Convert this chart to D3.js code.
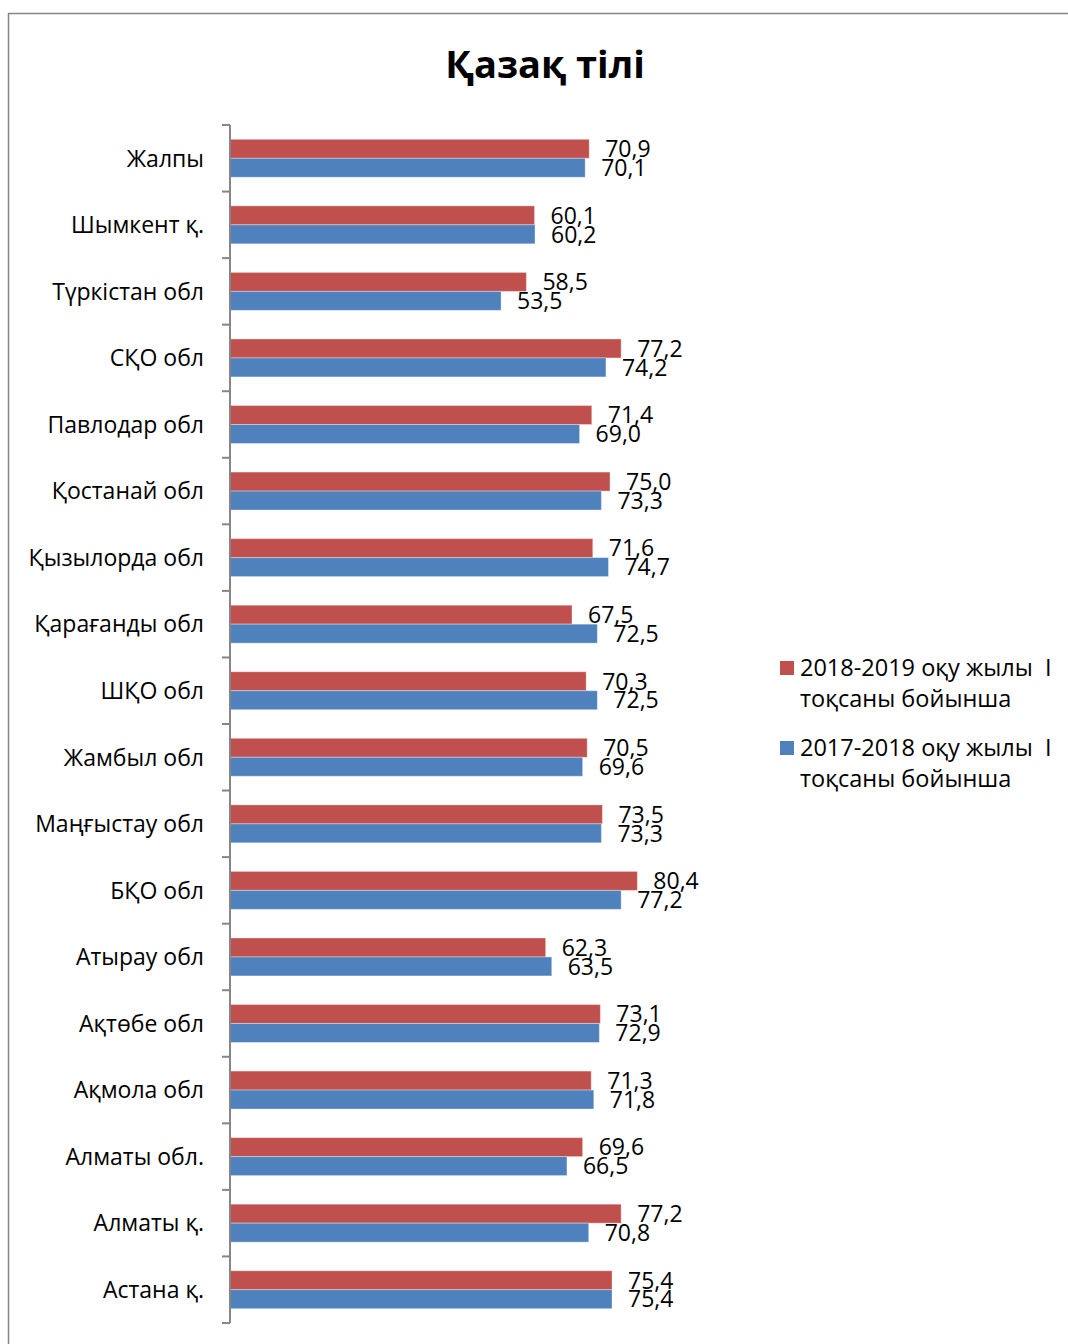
<!DOCTYPE html>
<html>
<head>
<meta charset="utf-8">
<script src="https://cdn.jsdelivr.net/npm/d3@7"></script>
<style>
  html, body { margin: 0; padding: 0; background: #fff; }
  svg { display: block; }
  text { font-family: "Open Sans", "Noto Sans", sans-serif; fill: #000; }
</style>
</head>
<body>
<svg id="chart" width="1068" height="1344"></svg>
<script>
const title = "Қазақ тілі";
const categories = ["Жалпы","Шымкент қ.","Түркістан обл","СҚО обл","Павлодар обл","Қостанай обл","Қызылорда обл","Қарағанды обл","ШҚО обл","Жамбыл обл","Маңғыстау обл","БҚО обл","Атырау обл","Ақтөбе обл","Ақмола обл","Алматы обл.","Алматы қ.","Астана қ."];
const series2018 = [70.9,60.1,58.5,77.2,71.4,75.0,71.6,67.5,70.3,70.5,73.5,80.4,62.3,73.1,71.3,69.6,77.2,75.4];
const series2017 = [70.1,60.2,53.5,74.2,69.0,73.3,74.7,72.5,72.5,69.6,73.3,77.2,63.5,72.9,71.8,66.5,70.8,75.4];
const seriesNames = ["2018-2019 оқу жылы  I тоқсаны бойынша", "2017-2018 оқу жылы  I тоқсаны бойынша"];
const legendLines = [["2018-2019 оқу жылы  I", "тоқсаны бойынша"], ["2017-2018 оқу жылы  I", "тоқсаны бойынша"]];
const colors = ["#C0504D", "#4F81BD"];

const svg = d3.select("#chart");

// outer chart border (left and top visible)
svg.append("rect")
  .attr("x", 8.5).attr("y", 13.5)
  .attr("width", 1200).attr("height", 1400)
  .attr("fill", "none").attr("stroke", "#868686").attr("stroke-width", 1.5);

// title
svg.append("text")
  .attr("x", 545).attr("y", 78)
  .attr("text-anchor", "middle")
  .attr("font-weight", "bold")
  .attr("font-size", 38)
  .text(title);

const x0 = 230;
const x = d3.scaleLinear().domain([0, 90]).range([x0, x0 + 456]);
const y = d3.scaleBand().domain(categories).range([125, 1323]).padding(0);
const inner = d3.scaleBand().domain([0, 1]).range([y.bandwidth() * 0.215, y.bandwidth() * 0.785]).padding(0);

const data = categories.map((c, i) => ({ cat: c, vals: [series2018[i], series2017[i]] }));
const fmt = v => d3.format(".1f")(v).replace(".", ",");

const g = svg.append("g");
const groups = g.selectAll("g.cat").data(data).enter().append("g")
  .attr("transform", d => `translate(0,${y(d.cat)})`);

groups.selectAll("rect").data(d => d.vals.map((v, k) => ({ v, k }))).enter().append("rect")
  .attr("x", x(0))
  .attr("y", d => inner(d.k))
  .attr("width", d => x(d.v) - x(0))
  .attr("height", inner.bandwidth())
  .attr("fill", d => colors[d.k])
  .attr("stroke", "rgba(255,255,255,0.35)")
  .attr("stroke-width", 1);

groups.selectAll("text.val").data(d => d.vals.map((v, k) => ({ v, k }))).enter().append("text")
  .attr("class", "val")
  .attr("x", d => x(d.v) + 16)
  .attr("y", d => inner(d.k) + inner.bandwidth() / 2)
  .attr("dy", "0.36em")
  .attr("font-size", 23)
  .text(d => fmt(d.v));

// category labels
groups.append("text")
  .attr("x", 204)
  .attr("y", y.bandwidth() / 2)
  .attr("dy", "0.36em")
  .attr("text-anchor", "end")
  .attr("font-size", 23)
  .text(d => d.cat);

// axis line and ticks at band boundaries
const boundaries = d3.range(categories.length + 1).map(i => y.range()[0] + i * y.step());
svg.append("line")
  .attr("x1", x0).attr("x2", x0)
  .attr("y1", y.range()[0]).attr("y2", y.range()[1])
  .attr("stroke", "#868686").attr("stroke-width", 2);
svg.selectAll("line.tick").data(boundaries).enter().append("line")
  .attr("class", "tick")
  .attr("x1", x0 - 8).attr("x2", x0)
  .attr("y1", d => d).attr("y2", d => d)
  .attr("stroke", "#868686").attr("stroke-width", 2);

// legend
const legend = svg.append("g");
legendLines.forEach((lines, k) => {
  const top = 661 + k * 80;
  legend.append("rect")
    .attr("x", 780).attr("y", top)
    .attr("width", 14).attr("height", 14)
    .attr("fill", colors[k]);
  lines.forEach((ln, j) => {
    legend.append("text")
      .attr("x", 800)
      .attr("y", top + 15 + j * 31)
      .attr("font-size", 23.5)
      .attr("xml:space", "preserve")
      .style("white-space", "pre")
      .text(ln);
  });
});
</script>
</body>
</html>
